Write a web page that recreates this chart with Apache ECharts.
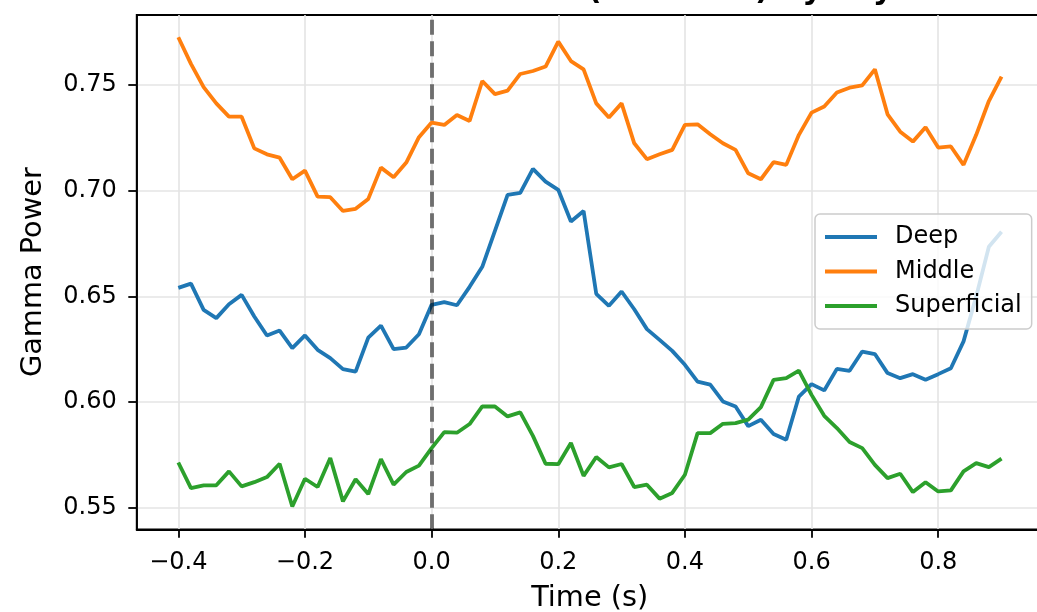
<!DOCTYPE html>
<html><head><meta charset="utf-8">
<script src="https://cdn.jsdelivr.net/npm/echarts@6/dist/echarts.min.js"></script>
<style>html,body{margin:0;padding:0;background:#fff}#c{width:1037px;height:612px}</style>
</head><body><div id="c"></div>
<script>
const titleText = 'LFP Gamma Power (Stimulus) by Layer';
const times = [-0.40,-0.38,-0.36,-0.34,-0.32,-0.30,-0.28,-0.26,-0.24,-0.22,-0.20,-0.18,-0.16,-0.14,-0.12,-0.10,-0.08,-0.06,-0.04,-0.02,
  0.00,0.02,0.04,0.06,0.08,0.10,0.12,0.14,0.16,0.18,0.20,0.22,0.24,0.26,0.28,0.30,0.32,0.34,0.36,0.38,
  0.40,0.42,0.44,0.46,0.48,0.50,0.52,0.54,0.56,0.58,0.60,0.62,0.64,0.66,0.68,0.70,0.72,0.74,0.76,0.78,
  0.80,0.82,0.84,0.86,0.88,0.90];
const deep = [0.654,0.656,0.6436,0.6397,0.6463,0.6507,0.6405,0.6315,0.6338,0.6255,0.6315,0.6247,0.6208,0.6156,0.6144,0.6305,0.6362,0.625,0.6258,0.6321,
  0.646,0.6473,0.6458,0.6545,0.664,0.681,0.698,0.699,0.7103,0.7043,0.7004,0.6854,0.6904,0.6512,0.6455,0.6523,0.6439,0.6345,0.6294,0.6242,
  0.6176,0.6097,0.6082,0.6003,0.5979,0.5886,0.5916,0.5849,0.5822,0.6026,0.6085,0.6055,0.6157,0.6148,0.6239,0.6227,0.6137,0.6113,0.6132,0.6105,
  0.6132,0.616,0.6287,0.650,0.6735,0.6806];
const middle = [0.7726,0.760,0.749,0.7413,0.735,0.735,0.720,0.7172,0.7156,0.7054,0.7095,0.6972,0.6969,0.6904,0.6914,0.6961,0.7109,0.7063,0.7133,0.7253,
  0.7322,0.7311,0.7358,0.733,0.7519,0.7457,0.7473,0.7552,0.7566,0.7587,0.7705,0.7613,0.7574,0.7413,0.7346,0.7413,0.7224,0.7149,0.7172,0.7193,
  0.7311,0.7314,0.7267,0.7224,0.7193,0.7082,0.7054,0.7135,0.7122,0.7264,0.7369,0.7398,0.7464,0.7487,0.7498,0.7574,0.7361,0.7279,0.7232,0.730,
  0.7204,0.7209,0.7122,0.7264,0.7424,0.7539];
const superficial = [0.5714,0.5593,0.5606,0.5606,0.5672,0.5601,0.5621,0.5645,0.5708,0.5506,0.5637,0.5598,0.5735,0.553,0.5635,0.5565,0.573,0.5609,0.5669,0.5699,
  0.5782,0.5858,0.5855,0.5896,0.5979,0.5979,0.5932,0.5951,0.584,0.5708,0.5706,0.5806,0.5651,0.574,0.5691,0.5707,0.5598,0.5609,0.5543,0.557,
  0.5656,0.5853,0.5853,0.5897,0.590,0.5917,0.5976,0.6105,0.6113,0.6149,0.6034,0.5935,0.5877,0.5811,0.5782,0.5703,0.564,0.5661,0.5574,0.5621,
  0.5577,0.5582,0.5672,0.5711,0.5692,0.5732];
const seriesNames = ['Deep','Middle','Superficial'];
const seriesColors = ['#1f77b4','#ff7f0e','#2ca02c'];
const xTicks = [-0.4,-0.2,0.0,0.2,0.4,0.6,0.8];
const yTicks = [0.55,0.60,0.65,0.70,0.75];
const stimulusTime = 0;

const FONT = '"DejaVu Sans", sans-serif';
const allValues = [deep, middle, superficial];
const chart = echarts.init(document.getElementById('c'), null, {renderer:'canvas'});
const series = allValues.map((vals, i) => ({
  name: seriesNames[i], type: 'line', data: times.map((t, j) => [t, vals[j]]),
  showSymbol: false, symbol: 'none', lineStyle: {color: seriesColors[i], width: 3.8},
  itemStyle: {color: seriesColors[i]}, animation: false, z: 3
}));
series[2].markLine = {
  silent: true, symbol: ['none','none'], label: {show: false}, animation: false,
  lineStyle: {color: 'rgba(0,0,0,0.53)', width: 4, type: [15, 6.5], cap: 'butt'},
  data: [{xAxis: stimulusTime}]
};
chart.setOption({
  animation: false,
  backgroundColor: '#fff',
  graphic: {elements: [{type: 'text', x: 590, y: -9.5, silent: true,
    style: {text: titleText, fill: '#000', font: 'bold 31px "DejaVu Sans", sans-serif', textAlign: 'center', textVerticalAlign: 'middle'}}]},
  grid: {left: 136.7, top: 15, width: 906, height: 514.3, containLabel: false, outerBoundsMode: 'none',
    show: true, borderColor: '#000', borderWidth: 1.8, backgroundColor: 'transparent'},
  xAxis: {type: 'value', min: -0.4657, max: 0.965,
    name: 'Time (s)', nameLocation: 'middle', nameGap: 55,
    nameTextStyle: {fontFamily: FONT, fontSize: 28.8, color: '#000'},
    axisLine: {show: true, onZero: false, lineStyle: {color: '#000', width: 1.8}},
    axisTick: {show: true, length: 8.4, customValues: xTicks, lineStyle: {color: '#000', width: 1.8}},
    axisLabel: {customValues: xTicks, margin: 21, fontFamily: FONT, fontSize: 24, color: '#000',
      formatter: v => (v < -1e-9 ? '\u2212' : '') + Math.abs(v).toFixed(1)},
    splitLine: {show: true, lineStyle: {color: '#e4e4e4', width: 1.6}}},
  yAxis: {type: 'value', min: 0.5398, max: 0.7831,
    name: 'Gamma Power', nameLocation: 'middle', nameGap: 89,
    nameTextStyle: {fontFamily: FONT, fontSize: 28.8, color: '#000'},
    axisLine: {show: true, onZero: false, lineStyle: {color: '#000', width: 1.8}},
    axisTick: {show: true, length: 8.4, customValues: yTicks, lineStyle: {color: '#000', width: 1.8}},
    axisLabel: {customValues: yTicks, margin: 20, fontFamily: FONT, fontSize: 24, color: '#000',
      formatter: v => v.toFixed(2)},
    splitLine: {show: true, lineStyle: {color: '#e4e4e4', width: 1.6}}},
  legend: {show: true, orient: 'vertical', left: 815, top: 214, data: seriesNames,
    icon: 'rect', itemWidth: 52, itemHeight: 4, itemGap: 10.5,
    padding: [11, 10, 11, 10], backgroundColor: 'rgba(255,255,255,0.8)',
    borderColor: '#cccccc', borderWidth: 1.5, borderRadius: 5,
    textStyle: {fontFamily: FONT, fontSize: 24, lineHeight: 24, color: '#000', padding: [0,0,0,13]}},
  series: series
});
</script></body></html>
